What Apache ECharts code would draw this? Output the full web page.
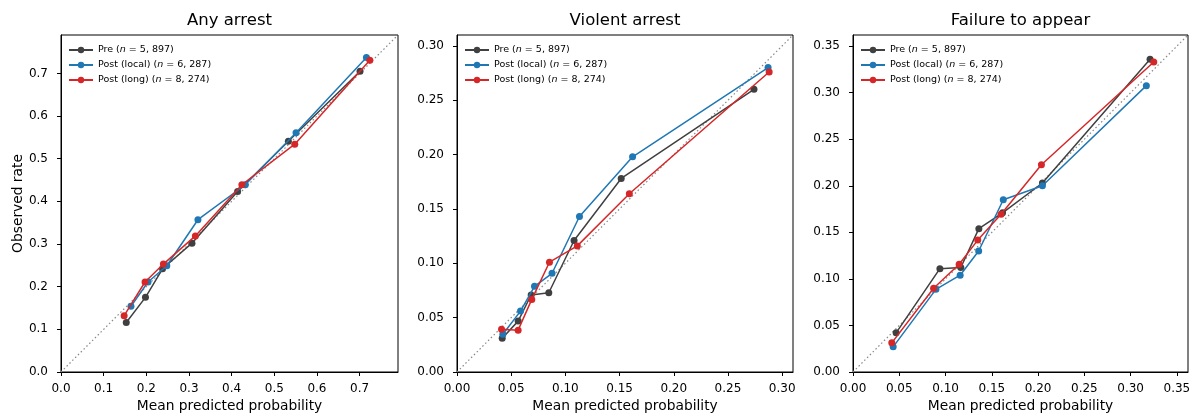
<!DOCTYPE html>
<html>
<head>
<meta charset="utf-8">
<script src="https://cdn.jsdelivr.net/npm/echarts@6/dist/echarts.min.js"></script>
<style>
  html, body { margin: 0; padding: 0; background: #fff; }
  #main { width: 1196px; height: 416px; }
</style>
</head>
<body>
<div id="main"></div>
<script>
var chartDom = document.getElementById('main');
var myChart = echarts.init(chartDom);

const panelTitles = ['Any arrest', 'Violent arrest', 'Failure to appear'];
const seriesNames = ['Pre', 'Post (local)', 'Post (long)'];
const sampleSizes = ['5, 897', '6, 287', '8, 274'];
const colors = ['#404040', '#1f77b4', '#d62728'];

// [mean predicted, observed]
const anyPre = [[0.153, 0.116], [0.198, 0.175], [0.238, 0.242], [0.307, 0.302], [0.414, 0.423], [0.533, 0.541], [0.701, 0.705]];
const anyLocal = [[0.164, 0.154], [0.204, 0.211], [0.248, 0.249], [0.321, 0.357], [0.432, 0.439], [0.551, 0.561], [0.716, 0.737]];
const anyLong = [[0.148, 0.132], [0.197, 0.211], [0.240, 0.253], [0.315, 0.319], [0.424, 0.439], [0.548, 0.534], [0.724, 0.731]];

const violentPre = [[0.0417, 0.031], [0.0564, 0.0468], [0.0684, 0.0708], [0.0847, 0.0729], [0.108, 0.121], [0.1515, 0.178], [0.274, 0.260]];
const violentLocal = [[0.0423, 0.0348], [0.0586, 0.056], [0.0715, 0.0788], [0.0877, 0.0908], [0.113, 0.143], [0.162, 0.198], [0.287, 0.280]];
const violentLong = [[0.0411, 0.0394], [0.0564, 0.0385], [0.069, 0.0668], [0.0853, 0.101], [0.111, 0.116], [0.159, 0.164], [0.288, 0.276]];

const ftaPre = [[0.0466, 0.0421], [0.0939, 0.111], [0.1165, 0.1122], [0.136, 0.154], [0.1616, 0.171], [0.2047, 0.203], [0.321, 0.336]];
const ftaLocal = [[0.0434, 0.027], [0.0896, 0.0888], [0.1158, 0.104], [0.1358, 0.130], [0.1624, 0.185], [0.2047, 0.200], [0.317, 0.3076]];
const ftaLong = [[0.0419, 0.0313], [0.0871, 0.090], [0.1147, 0.1158], [0.1348, 0.1417], [0.160, 0.1694], [0.2036, 0.2227], [0.325, 0.333]];

const axisMax = [0.79, 0.31, 0.362];
const ticks1 = [0, 0.1, 0.2, 0.3, 0.4, 0.5, 0.6, 0.7];
const ticks2 = [0, 0.05, 0.1, 0.15, 0.2, 0.25, 0.3];
const ticks3 = [0, 0.05, 0.1, 0.15, 0.2, 0.25, 0.3, 0.35];
const decimals = [1, 2, 2];

const panelData = [
  [anyPre, anyLocal, anyLong],
  [violentPre, violentLocal, violentLong],
  [ftaPre, ftaLocal, ftaLong]
];
const panelTicks = [ticks1, ticks2, ticks3];

const gridLeft = [61, 457, 853];
const gridWidth = [337, 336, 335];
const font = 'DejaVu Sans';

function makeAxis(i, isX) {
  const dec = decimals[i];
  return {
    type: 'value',
    gridIndex: i,
    min: 0,
    max: axisMax[i],
    name: isX ? 'Mean predicted probability' : (i === 0 ? 'Observed rate' : ''),
    nameLocation: 'middle',
    nameGap: isX ? 27 : 35,
    nameTextStyle: { color: '#000', fontSize: 13.8, fontFamily: font },
    axisLine: { show: true, onZero: false, lineStyle: { color: '#000', width: 1 } },
    axisTick: { show: true, length: 4, customValues: panelTicks[i], lineStyle: { color: '#000' } },
    axisLabel: {
      customValues: panelTicks[i],
      color: '#000', fontSize: 12, fontFamily: font, margin: isX ? 11 : 13,
      formatter: v => v.toFixed(dec)
    },
    splitLine: { show: false }
  };
}

const legendRich = {
  a: { fontSize: 9.5, fontFamily: font, color: '#000' },
  i: { fontSize: 9.5, fontFamily: font, color: '#000', fontStyle: 'italic' }
};

var option = {
  backgroundColor: '#fff',
  animation: false,
  title: panelTitles.map((t, i) => ({
    text: t,
    left: gridLeft[i] + gridWidth[i] / 2,
    textAlign: 'center',
    top: 12,
    padding: 0,
    textStyle: { fontSize: 16.5, fontWeight: 'normal', color: '#000', fontFamily: font }
  })),
  legend: panelTitles.map((t, i) => ({
    orient: 'vertical',
    left: gridLeft[i] + 7,
    top: 45,
    padding: 0,
    itemWidth: 24,
    itemHeight: 8,
    itemGap: 5,
    data: seriesNames,
    formatter: name => {
      const k = seriesNames.indexOf(name);
      return '{a|' + name + ' (}{i|n}{a| = ' + sampleSizes[k] + ')}';
    },
    textStyle: { rich: legendRich, padding: [0, 0, 0, 0] }
  })),
  grid: panelTitles.map((t, i) => ({
    left: gridLeft[i],
    top: 35,
    width: gridWidth[i],
    height: 337,
    outerBoundsMode: 'none',
    containLabel: false,
    show: true,
    borderColor: '#000',
    borderWidth: 1,
    backgroundColor: 'transparent'
  })),
  xAxis: panelTitles.map((t, i) => makeAxis(i, true)),
  yAxis: panelTitles.map((t, i) => makeAxis(i, false)),
  series: []
};

panelData.forEach((group, i) => {
  option.series.push({
    name: 'diagonal',
    type: 'line',
    xAxisIndex: i,
    yAxisIndex: i,
    data: [[0, 0], [axisMax[i], axisMax[i]]],
    symbol: 'none',
    silent: true,
    lineStyle: { color: '#888', width: 1.2, type: [1.5, 2.5] },
    z: 1
  });
  group.forEach((points, k) => {
    option.series.push({
      name: seriesNames[k],
      type: 'line',
      xAxisIndex: i,
      yAxisIndex: i,
      data: points,
      symbol: 'circle',
      symbolSize: 7,
      color: colors[k],
      lineStyle: { width: 1.5, color: colors[k] },
      itemStyle: { color: colors[k] },
      z: 2 + k
    });
  });
});

option && myChart.setOption(option);
</script>
</body>
</html>
